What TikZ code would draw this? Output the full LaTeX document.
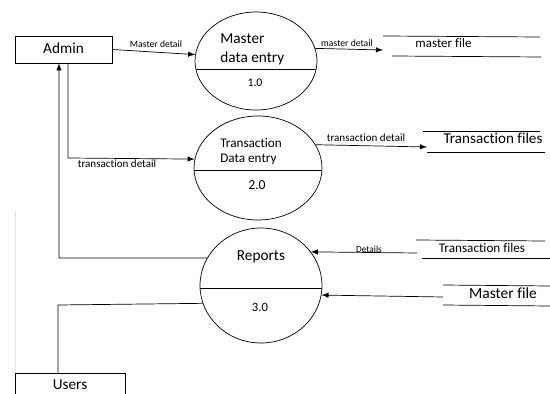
\documentclass[tikz,border=0pt]{standalone}
\usepackage{fontspec}
\setmainfont{Carlito}[Ligatures=NoCommon]
\usetikzlibrary{shapes.geometric}

\begin{document}
\begin{tikzpicture}[x=0.02cm,y=-0.02cm]
\tikzset{>=latex}

\tikzstyle{entity}  = [rectangle, draw, inner sep=0pt]
\tikzstyle{process} = [ellipse, draw, inner sep=0pt]
\tikzstyle{flow}    = [inner sep=1pt, font=\fontsize{5.5}{6}\selectfont]
\tikzstyle{txt}     = [inner sep=0pt, font=\fontsize{8.7}{10}\selectfont]

\clip (0,0) rectangle (550,394);
\fill[white] (0,0) rectangle (550,394);

% margin mark
\draw[red!15] (15,210) -- (15,394);

% entities
\node[entity,minimum width=1.94cm,minimum height=0.54cm] (A) at (63.5,49.5) {};
\node[txt] at (63.5,48) {Admin};
\node[entity,minimum width=2.2cm,minimum height=0.6cm]   (U) at (70,388) {};
\node[txt] at (70,385) {Users};

% processes
\node[process,minimum width=2.44cm,minimum height=1.96cm] (P1) at (256,61) {};
\node[txt,anchor=west] at (220,39) {Master};
\node[txt,anchor=west] at (220,58) {data entry};
\node[txt,font=\fontsize{6.7}{8}\selectfont] at (255,83) {1.0};
\draw (P1.188.5) -- (P1.-8.5);

\node[process,minimum width=2.56cm,minimum height=2.08cm] (P2) at (258,168) {};
\node[txt,anchor=west,font=\fontsize{7.5}{9}\selectfont] at (220,143) {Transaction};
\node[txt,anchor=west,font=\fontsize{7.5}{9}\selectfont] at (220,159) {Data entry};
\node[txt,font=\fontsize{7.8}{9}\selectfont] at (257,185) {2.0};
\draw (P2.182.7) -- (P2.-2.7);

\node[process,minimum width=2.44cm,minimum height=2.3cm] (P3) at (261,285.5) {};
\node[txt] at (261,257) {Reports};
\node[txt,font=\fontsize{7.2}{9}\selectfont] at (260,307) {3.0};
\draw (P3.183.3) -- (P3.-3.3);

% data stores
\node[txt,font=\fontsize{7.4}{9}\selectfont] (S1) at (443.5,43) {master file};
\draw (383,36) -- (540,37);
\draw (392,56) -- (541,57);
\coordinate (S1in) at (383,50);

\node[txt,font=\fontsize{8.6}{10}\selectfont] (S2) at (493,138) {Transaction files};
\draw (423,131) -- (540,131);
\draw (427,152) -- (545,152);
\coordinate (S2in) at (427,147);

\node[txt,font=\fontsize{7.5}{9}\selectfont] (S3) at (482,248) {Transaction files};
\draw (416,240) -- (545,241);
\draw (422,258) -- (550,258);
\coordinate (S3out) at (417,253);

\node[txt,font=\fontsize{8.8}{10}\selectfont] (S4) at (503,293) {Master file};
\draw (443,285) -- (550,286);
\draw (443,305) -- (550,306);
\coordinate (S4out) at (443,297);

% flows
\draw[->] (A.east) -- (P1.174);
\node[flow] at (156,44) {Master detail};

\draw[->] (P1.12) -- (S1in);
\node[flow] at (347,43) {master detail};

\coordinate (AT) at (68,158);
\draw[->] (AT |- A.south) -- (AT) -- (P2.172);
\node[flow,font=\fontsize{6.3}{7}\selectfont] at (117,164) {transaction detail};

\draw[->] (P2.22) -- (S2in);
\node[flow,font=\fontsize{6.3}{7}\selectfont] at (366,138) {transaction detail};

\coordinate (RA) at (59,258);
\draw[->] (P3.153) -- (RA) -- (RA |- A.south);

\draw[->] (S3out) -- (P3.34);
\node[flow,font=\fontsize{5.3}{6}\selectfont] at (369,249) {Details};

\draw[->] (S4out) -- (P3.-9);

\coordinate (RU) at (58,305);
\draw (P3.197) -- (RU) -- (RU |- U.north);

\end{tikzpicture}
\end{document}
